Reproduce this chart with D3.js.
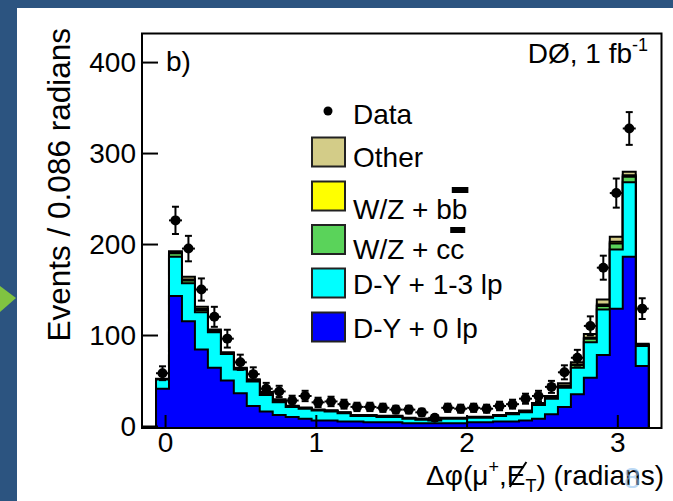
<!DOCTYPE html>
<html>
<head>
<meta charset="utf-8">
<script src="https://cdn.jsdelivr.net/npm/d3@7"></script>
<style>
  body { margin: 0; background: #2c5480; }
  svg { display: block; font-family: "Liberation Sans", Arial, Helvetica, sans-serif; }
</style>
</head>
<body>
<svg id="chart" width="673" height="501"></svg>
<script>
// histogram binning (radians)
const binLow = -0.06;
const binWidth = 0.086;

// observed events per bin
const dataCounts = [58, 226, 195, 150, 120, 96, 70, 57, 41, 38,
                    28, 33, 26, 27, 24, 21, 21, 20, 18, 18,
                    15, 9, 20, 19, 20, 19, 22, 24, 30, 33,
                    43, 59, 75, 110, 174, 256, 327, 129];
const dataErrors = [7.6, 15, 14, 12.2, 11, 9.8, 8.4, 7.5, 6.4, 6.2,
                    5.3, 5.7, 5.1, 5.2, 4.9, 4.6, 4.6, 4.5, 4.2, 4.2,
                    3.9, 3, 4.5, 4.4, 4.5, 4.4, 4.7, 4.9, 5.5, 5.7,
                    6.6, 7.7, 8.7, 10.5, 13.2, 16, 18, 11.4];

// MC components, bottom to top
const dy0lp = [41, 143, 115, 84, 64, 50, 36, 22, 16, 12,
               10, 8, 6, 6, 5, 5, 4, 4, 4, 3,
               3, 3, 3, 3, 4, 4, 5, 5, 6, 8,
               13, 21, 35, 53, 78, 129, 186, 66];
const dy13lp = [10, 43, 42, 41, 39, 29, 26, 27, 18, 14,
                11, 11, 11, 10, 9, 6, 7, 6, 6, 5,
                4, 3, 5, 5, 5, 5, 6, 8, 9, 15,
                17, 21, 29, 39, 50, 65, 82, 22];
const wzcc = [0.3, 4, 3, 2.5, 1.5, 1, 1, 1, 1.5, 1.5,
              0.5, 0.5, 0.5, 0.5, 0.5, 0.5, 0.5, 0.5, 0.5, 0.5,
              0.5, 0.5, 0.5, 0.5, 0.5, 0.5, 0.5, 0.5, 0.8, 1,
              1.2, 2, 3, 4, 4, 6.5, 6, 1];
const wzbb = [0.2, 0.5, 1, 1, 0.5, 0.3, 0.3, 0.5, 0.5, 0.5,
              0.2, 0.2, 0.2, 0.2, 0.2, 0.2, 0.2, 0.2, 0.2, 0.2,
              0.2, 0.2, 0.2, 0.2, 0.2, 0.2, 0.2, 0.2, 0.3, 0.3,
              0.3, 0.5, 0.5, 1, 1.5, 2, 1.5, 0.5];
const other = [0.5, 1.5, 3, 2.5, 1, 0.7, 0.7, 1, 1.5, 1.5,
               0.5, 0.5, 0.5, 0.5, 0.5, 0.5, 0.5, 0.5, 0.5, 0.5,
               0.5, 0.5, 0.5, 0.5, 0.5, 0.5, 0.5, 0.5, 0.8, 1,
               1.5, 2.5, 2.5, 4, 5.5, 5.5, 4, 1];

const seriesKeys = ["dy0", "dy13", "wzcc", "wzbb", "other"];
const seriesColors = {dy0: "#0000ff", dy13: "#00ffff", wzcc: "#5ad35a", wzbb: "#ffff00", other: "#d3cc88"};
const legendItems = [
  {key: "other", label: "Other"},
  {key: "wzbb", label: "W/Z + bb", bar: true},
  {key: "wzcc", label: "W/Z + cc", bar: true},
  {key: "dy13", label: "D-Y + 1-3 lp"},
  {key: "dy0", label: "D-Y + 0 lp"}
];
const xTicks = [0, 1, 2, 3];
const yTicks = [0, 100, 200, 300, 400];

const svg = d3.select("#chart");

// white slide panel
svg.append("rect").attr("x", 17).attr("y", 8).attr("width", 656).attr("height", 493).attr("fill", "#fff");
// bit of the green arrow poking in from the left
svg.append("path").attr("d", "M0,286 L16,298 L0,312 Z").attr("fill", "#80c341");

const frame = {left: 142, right: 661.5, top: 33.5, bottom: 428};

const x = d3.scaleLinear().domain([-0.153, 3.293]).range([frame.left, frame.right]);
const y = d3.scaleLinear().domain([-2.2, 431.4]).range([frame.bottom, frame.top]);

const rows = dataCounts.map((d, i) => ({
  lo: binLow + i * binWidth,
  hi: binLow + (i + 1) * binWidth,
  dy0: dy0lp[i], dy13: dy13lp[i], wzcc: wzcc[i], wzbb: wzbb[i], other: other[i]
}));

const stacked = d3.stack().keys(seriesKeys)(rows);

const area = d3.area()
  .x(d => x(d.x))
  .y0(frame.bottom)
  .y1(d => y(d.v));

// ROOT style: draw cumulative sums from the top layer down
stacked.slice().reverse().forEach(layer => {
  const pts = [];
  layer.forEach((s, i) => {
    pts.push({x: rows[i].lo, v: s[1]});
    pts.push({x: rows[i].hi, v: s[1]});
  });
  svg.append("path")
    .datum(pts)
    .attr("fill", seriesColors[layer.key])
    .attr("stroke", "#000")
    .attr("stroke-width", 2)
    .attr("stroke-linejoin", "miter")
    .attr("d", area);
});

// frame
svg.append("rect")
  .attr("x", frame.left).attr("y", frame.top)
  .attr("width", frame.right - frame.left).attr("height", frame.bottom - frame.top)
  .attr("fill", "none").attr("stroke", "#000").attr("stroke-width", 2);

// axes, ticks drawn inward
const xAxis = svg.append("g")
  .attr("transform", `translate(0,${frame.bottom})`)
  .call(d3.axisTop(x).tickValues(xTicks).tickSize(13).tickFormat(d3.format("d")));
xAxis.select(".domain").remove();
xAxis.selectAll(".tick line").attr("stroke-width", 2);
xAxis.selectAll(".tick text")
  .attr("y", 24).attr("dy", 0)
  .attr("font-size", 28).attr("font-family", "Liberation Sans, Arial, sans-serif")
  .attr("fill", "#000");

const yAxis = svg.append("g")
  .attr("transform", `translate(${frame.left},0)`)
  .call(d3.axisRight(y).tickValues(yTicks).tickSize(16).tickFormat(d3.format("d")));
yAxis.select(".domain").remove();
yAxis.selectAll(".tick line").attr("stroke-width", 2);
yAxis.selectAll(".tick text")
  .attr("x", -6).attr("dy", "0.35em")
  .attr("text-anchor", "end")
  .attr("font-size", 28).attr("font-family", "Liberation Sans, Arial, sans-serif")
  .attr("fill", "#000");

// data points with error bars
const pts = svg.append("g").selectAll("g").data(rows).join("g");
pts.append("line")
  .attr("x1", d => x(d.lo)).attr("x2", d => x(d.hi))
  .attr("y1", (d, i) => y(dataCounts[i])).attr("y2", (d, i) => y(dataCounts[i]))
  .attr("stroke", "#000").attr("stroke-width", 2);
pts.append("line")
  .attr("x1", d => x((d.lo + d.hi) / 2)).attr("x2", d => x((d.lo + d.hi) / 2))
  .attr("y1", (d, i) => y(dataCounts[i] - dataErrors[i]))
  .attr("y2", (d, i) => y(dataCounts[i] + dataErrors[i]))
  .attr("stroke", "#000").attr("stroke-width", 2);
[-1, 1].forEach(sgn => {
  pts.append("line")
    .attr("x1", d => x((d.lo + d.hi) / 2) - 3.5).attr("x2", d => x((d.lo + d.hi) / 2) + 3.5)
    .attr("y1", (d, i) => y(dataCounts[i] + sgn * dataErrors[i]))
    .attr("y2", (d, i) => y(dataCounts[i] + sgn * dataErrors[i]))
    .attr("stroke", "#000").attr("stroke-width", 2);
});
pts.append("circle")
  .attr("cx", d => x((d.lo + d.hi) / 2))
  .attr("cy", (d, i) => y(dataCounts[i]))
  .attr("r", 5).attr("fill", "#000");

// legend
const lg = svg.append("g").attr("font-size", 28).attr("fill", "#000");
lg.append("circle").attr("cx", 328).attr("cy", 111).attr("r", 4.5).attr("fill", "#000");
lg.append("text").attr("x", 353).attr("y", 124).text("Data");
const boxTops = [137.5, 181.5, 225, 268.5, 312.5];
const textBase = [167, 219, 259, 294, 338];
legendItems.forEach((it, i) => {
  lg.append("rect")
    .attr("x", 312).attr("y", boxTops[i]).attr("width", 33).attr("height", 29)
    .attr("fill", seriesColors[it.key]).attr("stroke", "#222").attr("stroke-width", 2);
  const t = lg.append("text").attr("x", 353).attr("y", textBase[i]).text(it.label);
  if (it.bar) {
    const node = t.node();
    const n = it.label.length - 1;
    const p = node.getStartPositionOfChar(n);
    const w = node.getSubStringLength(n, 1);
    lg.append("rect")
      .attr("x", p.x).attr("y", textBase[i] - 32)
      .attr("width", w + 1).attr("height", 6).attr("fill", "#000");
  }
});

// labels
svg.append("text").attr("x", 166).attr("y", 71).attr("font-size", 28).text("b)");

const lumi = svg.append("text").attr("x", 648).attr("y", 63).attr("font-size", 28).attr("text-anchor", "end");
lumi.append("tspan").text("D\u00d8, 1 fb");
lumi.append("tspan").attr("font-size", 18).attr("dy", -12).text("-1");

svg.append("text")
  .attr("transform", "translate(70,28) rotate(-90)")
  .attr("text-anchor", "end")
  .attr("font-size", 31.5)
  .text("Events / 0.086 radians");

// x title: delta phi(mu+, missing ET)
const xt = svg.append("text").attr("x", 664).attr("y", 485).attr("font-size", 28).attr("text-anchor", "end");
xt.append("tspan").text("\u0394\u03c6(\u03bc");
xt.append("tspan").attr("font-size", 18).attr("dy", -12).text("+");
xt.append("tspan").attr("dy", 12).text(",E");
xt.append("tspan").attr("font-size", 18).attr("dy", 7).text("T");
xt.append("tspan").attr("dy", -7).text(") (radians)");
{
  const node = xt.node();
  const p = node.getStartPositionOfChar(6);
  const w = node.getSubStringLength(6, 1);
  svg.append("line")
    .attr("x1", p.x + 3).attr("y1", 487)
    .attr("x2", p.x + w + 1).attr("y2", 462)
    .attr("stroke", "#000").attr("stroke-width", 2);
}

// slide number showing through
svg.append("text").attr("x", 632).attr("y", 488).attr("font-size", 30)
  .attr("text-anchor", "middle").attr("fill", "#8fc0ee").attr("fill-opacity", 0.6).text("8");
</script>
</body>
</html>
